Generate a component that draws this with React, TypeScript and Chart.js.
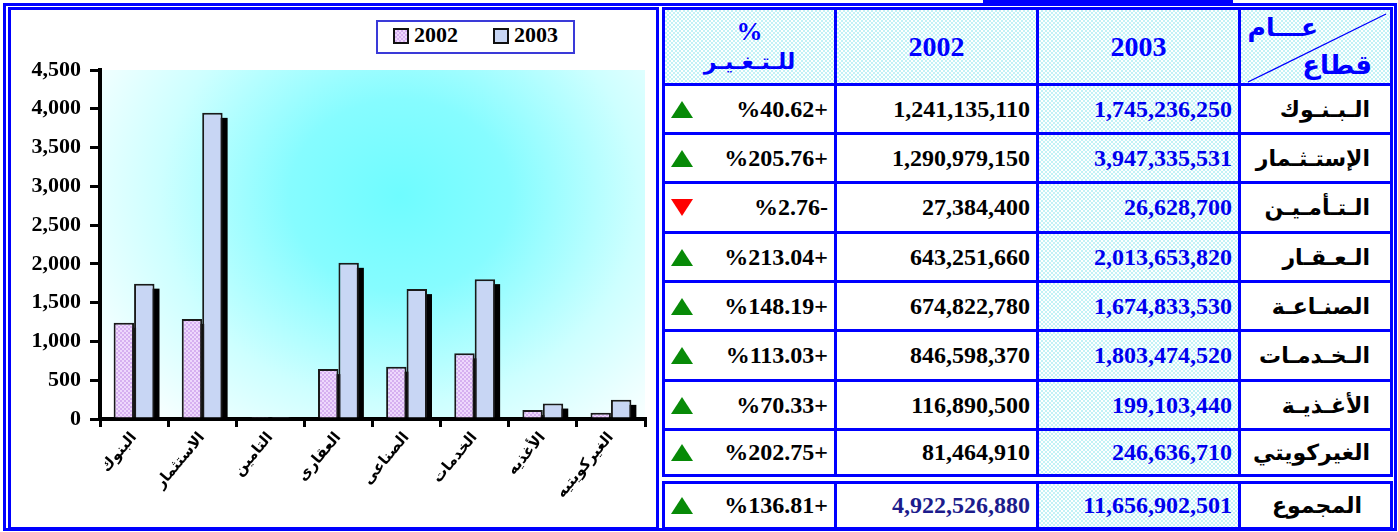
import React, { useEffect, useRef } from 'react';
import { Chart, registerables } from 'chart.js';

Chart.register(...registerables);

// ---------- data ----------
const seriesNames = ['2002', '2003'];
const chartCategories = ['البنوك', 'الاستثمار', 'التامين', 'العقارى', 'الصناعى', 'الخدمات', 'الأغذيه', 'الغيركويتيه'];
const yMax = 4500;
const yStep = 500;

const sectorNames = ['الـبـنـوك', 'الإستـثـمار', 'الـتـأمـيـن', 'الـعـقـار', 'الصنـاعـة', 'الـخـدمـات', 'الأغـذيـة', 'الغيركويتي'];
const amounts2003 = [1745236250, 3947335531, 26628700, 2013653820, 1674833530, 1803474520, 199103440, 246636710];
const amounts2002 = [1241135110, 1290979150, 27384400, 643251660, 674822780, 846598370, 116890500, 81464910];
const changePct = ['40.62', '205.76', '2.76', '213.04', '148.19', '113.03', '70.33', '202.75'];
const changeUp = [true, true, false, true, true, true, true, true];

const totalLabel = 'المجموع';
const total2003 = 11656902501;
const total2002 = 4922526880;
const totalChange = '136.81';
const totalUp = true;

const headerYear = 'عـــام';
const headerSector = 'قطاع';
const headerPct = '%';
const headerChange = 'للـتـغـيـر';

// chart values in millions
const values2002 = amounts2002.map((v) => v / 1e6);
const values2003 = amounts2003.map((v) => v / 1e6);

// ---------- styles ----------
const BLUE = '#0000ff';
const fmt = (n: number) => n.toLocaleString('en-US');
const serif = '"Liberation Serif", "Times New Roman", serif';
const arabic = '"DejaVu Sans", sans-serif';
const stipple: React.CSSProperties = {
  backgroundColor: '#ffffff',
  backgroundImage: 'repeating-conic-gradient(#c2f2f6 0% 25%, #ffffff 0% 50%)',
  backgroundSize: '4px 4px',
};

function makePattern2002(): CanvasPattern | string {
  const c = document.createElement('canvas');
  c.width = 4;
  c.height = 4;
  const g = c.getContext('2d');
  if (!g) return '#e2c4f6';
  g.fillStyle = '#eed8fc';
  g.fillRect(0, 0, 4, 4);
  g.fillStyle = '#d6b0f0';
  g.fillRect(0, 0, 2, 2);
  g.fillRect(2, 2, 2, 2);
  const p = g.createPattern(c, 'repeat');
  return p || '#e2c4f6';
}

const bgPlugin = {
  id: 'bgGradient',
  beforeDraw(chart: any) {
    const { ctx, chartArea: a } = chart;
    ctx.save();
    ctx.beginPath();
    ctx.rect(a.left, a.top, a.right - a.left, a.bottom - a.top);
    ctx.clip();
    const cx = a.left + (a.right - a.left) * 0.55;
    const cy = a.top + (a.bottom - a.top) * 0.36;
    ctx.translate(cx, cy);
    ctx.scale(1.15, 1);
    const g = ctx.createRadialGradient(0, 0, 0, 0, 0, 320);
    g.addColorStop(0, '#6ffcff');
    g.addColorStop(0.3, '#86fcff');
    g.addColorStop(0.65, '#cdffff');
    g.addColorStop(1, '#ffffff');
    ctx.fillStyle = g;
    ctx.fillRect(-2000, -2000, 4000, 4000);
    ctx.restore();
  },
};

const shadowPlugin = {
  id: 'barShadow',
  beforeDatasetsDraw(chart: any) {
    const ctx = chart.ctx;
    ctx.save();
    ctx.fillStyle = '#000000';
    chart.data.datasets.forEach((_: any, i: number) => {
      const meta = chart.getDatasetMeta(i);
      meta.data.forEach((bar: any) => {
        const { x, y, base, width } = bar.getProps(['x', 'y', 'base', 'width'], true);
        const top = y + 5;
        const h = base - top;
        if (h > 0) ctx.fillRect(x - width / 2 + 5, top, width, h);
      });
    });
    ctx.restore();
  },
};

function ChartPanel() {
  const ref = useRef<HTMLCanvasElement>(null);
  useEffect(() => {
    if (!ref.current) return;
    const chart = new Chart(ref.current, {
      type: 'bar',
      data: {
        labels: chartCategories,
        datasets: [
          {
            label: seriesNames[0],
            data: values2002,
            backgroundColor: makePattern2002() as any,
            borderColor: '#1a1a1a',
            borderWidth: 2,
            categoryPercentage: 0.6,
            barPercentage: 1,
          },
          {
            label: seriesNames[1],
            data: values2003,
            backgroundColor: '#c8d6f4',
            borderColor: '#1a1a1a',
            borderWidth: 2,
            categoryPercentage: 0.6,
            barPercentage: 1,
          },
        ],
      },
      options: {
        responsive: false,
        animation: false,
        devicePixelRatio: 1,
        layout: { padding: { top: 60, right: 11, left: 0, bottom: 0 } },
        plugins: { legend: { display: false }, tooltip: { enabled: false }, title: { display: false } },
        scales: {
          x: {
            grid: { display: true, drawOnChartArea: false, tickLength: 8, lineWidth: 3, color: '#000', offset: true },
            border: { display: true, width: 4, color: '#000' },
            ticks: {
              autoSkip: false,
              minRotation: 50,
              maxRotation: 50,
              padding: 2,
              color: '#000',
              font: { family: arabic, size: 15, weight: 'bold' },
            },
            afterFit: (s: any) => {
              s.height = 108;
            },
          },
          y: {
            min: 0,
            max: yMax,
            grid: { display: true, drawOnChartArea: false, tickLength: 10, lineWidth: 3, color: '#000' },
            border: { display: true, width: 4, color: '#000' },
            ticks: {
              stepSize: yStep,
              padding: 9,
              color: '#000',
              font: { family: serif, size: 22, weight: 'bold' },
              callback: (v: any) => fmt(Number(v)),
            },
            afterFit: (s: any) => {
              s.width = 90;
            },
          },
        },
      },
      plugins: [bgPlugin, shadowPlugin],
    });
    return () => chart.destroy();
  }, []);
  return (
    <canvas
      ref={ref}
      width={646}
      height={517}
      style={{ position: 'absolute', left: 10, top: 10, width: 646, height: 517 }}
    />
  );
}

function Legend() {
  const swatch = (bg: string): React.CSSProperties => ({
    position: 'absolute',
    width: 12,
    height: 12,
    border: '2px solid #111',
    background: bg,
    top: 28,
  });
  const txt: React.CSSProperties = {
    position: 'absolute',
    top: 22,
    fontFamily: serif,
    fontWeight: 'bold',
    fontSize: 22,
    lineHeight: '26px',
    color: '#000',
  };
  return (
    <>
      <div
        style={{
          position: 'absolute',
          left: 376,
          top: 20,
          width: 199,
          height: 34,
          border: '2px solid #3a3ad8',
          boxSizing: 'border-box',
          background: '#fff',
        }}
      />
      <div style={{ ...swatch('repeating-conic-gradient(#d6b0f0 0% 25%, #eed8fc 0% 50%) 0 0/4px 4px'), left: 393 }} />
      <div style={{ ...txt, left: 414 }}>{seriesNames[0]}</div>
      <div style={{ ...swatch('#c8d6f4'), left: 493 }} />
      <div style={{ ...txt, left: 514 }}>{seriesNames[1]}</div>
    </>
  );
}

// ---------- table layout ----------
const vLines = [662, 834, 1036, 1238, 1390];
const hLines = [7, 83, 132, 181, 231, 280, 329, 379, 428, 474];
const totalTop = 481;
const totalBottom = 527;
const LW = 3;

function Box(props: { x0: number; x1: number; y0: number; y1: number; style?: React.CSSProperties; children?: any }) {
  const { x0, x1, y0, y1, style, children } = props;
  return (
    <div
      style={{
        position: 'absolute',
        left: x0,
        top: y0,
        width: x1 - x0,
        height: y1 - y0,
        display: 'flex',
        alignItems: 'center',
        boxSizing: 'border-box',
        overflow: 'hidden',
        ...style,
      }}
    >
      {children}
    </div>
  );
}

function Tri({ up }: { up: boolean }) {
  return (
    <div
      style={{
        position: 'absolute',
        left: 6,
        width: 0,
        height: 0,
        borderLeft: '11px solid transparent',
        borderRight: '11px solid transparent',
        ...(up ? { borderBottom: '17px solid #078a07' } : { borderTop: '17px solid #ff0000' }),
      }}
    />
  );
}

const numStyle: React.CSSProperties = {
  fontFamily: serif,
  fontWeight: 'bold',
  fontSize: 24,
  justifyContent: 'flex-end',
  paddingRight: 6,
  whiteSpace: 'nowrap',
};
const nameStyle: React.CSSProperties = {
  fontFamily: arabic,
  fontWeight: 'bold',
  fontSize: 22,
  justifyContent: 'flex-end',
  paddingRight: 20,
  color: '#000',
  whiteSpace: 'nowrap',
};

function Row(props: { y0: number; y1: number; name: string; a3: number; a2: number; pct: string; up: boolean; total?: boolean }) {
  const { y0, y1, name, a3, a2, pct, up, total } = props;
  const c = vLines;
  return (
    <>
      <Box x0={c[0] + LW} x1={c[1]} y0={y0} y1={y1} style={{ ...numStyle, color: '#000' }}>
        <Tri up={up} />
        <span style={{ direction: 'ltr', unicodeBidi: 'isolate' }}>{`%${pct}${up ? '+' : '-'}`}</span>
      </Box>
      <Box x0={c[1] + LW} x1={c[2]} y0={y0} y1={y1} style={{ ...numStyle, color: total ? '#1c1c8c' : '#000' }}>
        {fmt(a2)}
      </Box>
      <Box x0={c[2] + LW} x1={c[3]} y0={y0} y1={y1} style={{ ...numStyle, ...stipple, color: '#0000ee' }}>
        {fmt(a3)}
      </Box>
      <Box x0={c[3] + LW} x1={c[4]} y0={y0} y1={y1} style={total ? { ...nameStyle, paddingRight: 28 } : nameStyle}>
        <span dir="rtl">{name}</span>
      </Box>
    </>
  );
}

function Table() {
  const c = vLines;
  const lines: any[] = [];
  c.forEach((x, i) => {
    lines.push(<div key={'v' + i} style={{ position: 'absolute', left: x, top: hLines[0], width: LW, height: hLines[hLines.length - 1] + LW - hLines[0], background: BLUE }} />);
    lines.push(<div key={'vt' + i} style={{ position: 'absolute', left: x, top: totalTop, width: LW, height: totalBottom + LW - totalTop, background: BLUE }} />);
  });
  [...hLines, totalTop, totalBottom].forEach((y, i) => {
    lines.push(<div key={'h' + i} style={{ position: 'absolute', left: c[0], top: y, width: c[4] + LW - c[0], height: LW, background: BLUE }} />);
  });
  const hy0 = hLines[0] + LW;
  const hy1 = hLines[1];
  return (
    <>
      {/* header */}
      <Box x0={c[0] + LW} x1={c[1]} y0={hy0} y1={hy1} style={{ ...stipple, flexDirection: 'column', justifyContent: 'center', color: BLUE }}>
        <div style={{ fontFamily: serif, fontWeight: 'bold', fontSize: 26, lineHeight: '28px', marginTop: 2 }}>{headerPct}</div>
        <div dir="rtl" style={{ fontFamily: arabic, fontWeight: 'bold', fontSize: 22, lineHeight: '32px' }}>{headerChange}</div>
      </Box>
      <Box x0={c[1] + LW} x1={c[2]} y0={hy0} y1={hy1} style={{ ...stipple, justifyContent: 'center', color: BLUE, fontFamily: serif, fontWeight: 'bold', fontSize: 28 }}>
        {seriesNames[0]}
      </Box>
      <Box x0={c[2] + LW} x1={c[3]} y0={hy0} y1={hy1} style={{ ...stipple, justifyContent: 'center', color: BLUE, fontFamily: serif, fontWeight: 'bold', fontSize: 28 }}>
        {seriesNames[1]}
      </Box>
      <Box x0={c[3] + LW} x1={c[4]} y0={hy0} y1={hy1} style={{ ...stipple }}>
        <svg width={c[4] - c[3] - LW} height={hy1 - hy0} style={{ position: 'absolute', left: 0, top: 0 }}>
          <line x1={7} y1={hy1 - hy0 - 1} x2={c[4] - c[3] - LW - 4} y2={4} stroke={BLUE} strokeWidth={1.3} />
        </svg>
        <div dir="rtl" style={{ position: 'absolute', right: 72, top: 3, fontFamily: arabic, fontWeight: 'bold', fontSize: 25, color: BLUE, whiteSpace: 'nowrap' }}>{headerYear}</div>
        <div dir="rtl" style={{ position: 'absolute', right: 18, top: 40, fontFamily: arabic, fontWeight: 'bold', fontSize: 26, color: BLUE, whiteSpace: 'nowrap' }}>{headerSector}</div>
      </Box>
      {sectorNames.map((n, i) => (
        <Row key={i} y0={hLines[i + 1] + LW} y1={hLines[i + 2]} name={n} a3={amounts2003[i]} a2={amounts2002[i]} pct={changePct[i]} up={changeUp[i]} />
      ))}
      <Row y0={totalTop + LW} y1={totalBottom} name={totalLabel} a3={total2003} a2={total2002} pct={totalChange} up={totalUp} total />
      {lines}
    </>
  );
}

export default function App() {
  return (
    <div style={{ position: 'fixed', left: 0, top: 0, width: 1398, height: 532, background: '#fff', overflow: 'hidden' }}>
      {/* outer frame */}
      <div style={{ position: 'absolute', left: 3, top: 3, width: 1394, height: 528, border: `3px solid ${BLUE}`, boxSizing: 'border-box' }} />
      <div style={{ position: 'absolute', left: 983, top: 0, width: 250, height: 6, background: BLUE }} />
      <ChartPanel />
      {/* left panel inner frame */}
      <div style={{ position: 'absolute', left: 8, top: 7, width: 651, height: 523, border: `3px solid ${BLUE}`, boxSizing: 'border-box', pointerEvents: 'none' }} />
      <Legend />
      <Table />
    </div>
  );
}
